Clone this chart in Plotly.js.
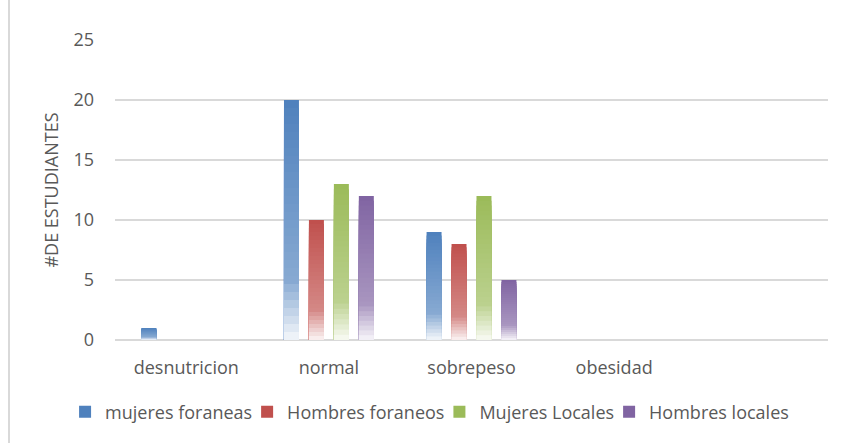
<!DOCTYPE html>
<html>
<head>
<meta charset="utf-8">
<script src="https://cdn.plot.ly/plotly-3.0.1.min.js"></script>
<style>
  html, body { margin: 0; padding: 0; background: #ffffff; }
  #wrap { position: relative; width: 843px; height: 443px; }
  #chart { width: 843px; height: 443px; }
  #frame { position: absolute; left: 8px; top: 0; width: 2px; height: 443px; background: #d9d9d9; }
</style>
</head>
<body>
<div id="wrap">
  <div id="chart"></div>
  <div id="frame"></div>
</div>
<script>
// ---- data ----
const categories = ['desnutricion', 'normal', 'sobrepeso', 'obesidad'];
const seriesNames = ['mujeres foraneas', 'Hombres foraneos', 'Mujeres Locales', 'Hombres locales'];
const mujeresForaneas = [1, 20, 9, 0];
const hombresForaneos = [0, 10, 8, 0];
const mujeresLocales = [0, 13, 12, 0];
const hombresLocales = [0, 12, 5, 0];
const yTickValues = [0, 5, 10, 15, 20, 25];

// ---- styling ----
const seriesValues = [mujeresForaneas, hombresForaneos, mujeresLocales, hombresLocales];
const baseColors = [[79, 129, 189], [192, 80, 77], [155, 187, 89], [128, 100, 162]];
const FONT = '"Open Sans", "Noto Sans", sans-serif';
const TXT = '#595959';
const N = 30; // gradient layers per bar

function mixWhite(rgb, m) {
  return 'rgb(' + rgb.map(c => Math.round(c + (255 - c) * m)).join(',') + ')';
}
// t: 0 at top of bar, 1 at bottom
function gradAt(rgb, t) {
  let m;
  if (t <= 0.75) m = 0.32 * (t / 0.75);
  else m = 0.32 + (0.94 - 0.32) * ((t - 0.75) / 0.25);
  return mixWhite(rgb, m);
}

// Overlapping layers: tallest (full value) first, shorter lighter layers drawn over the lower part.
const traces = [];
seriesValues.forEach((vals, s) => {
  for (let k = 0; k < N; k++) {
    const t = (k + 0.5) / N;
    traces.push({
      type: 'bar',
      x: categories,
      y: vals.map(v => v * (N - k) / N),
      offsetgroup: String(s),
      legendgroup: String(s),
      name: seriesNames[s],
      showlegend: k === 0,
      marker: { color: k === 0 ? mixWhite(baseColors[s], 0) : gradAt(baseColors[s], t), line: { width: 0 } },
      hoverinfo: 'skip'
    });
  }
});

const layout = {
  width: 843,
  height: 443,
  paper_bgcolor: '#ffffff',
  plot_bgcolor: '#ffffff',
  margin: { l: 115, r: 15, t: 40, b: 103 },
  barmode: 'group',
  bargap: 0.3,
  bargroupgap: 0.4,
  showlegend: true,
  font: { family: FONT, size: 18, color: TXT },
  xaxis: {
    type: 'category',
    categoryorder: 'array',
    categoryarray: categories,
    range: [-0.5, 4.5],
    showgrid: false,
    showline: false,
    zeroline: false,
    ticks: '',
    tickangle: 0,
    ticklabelstandoff: 15,
    tickfont: { family: FONT, size: 18, color: TXT },
    automargin: false,
    fixedrange: true
  },
  yaxis: {
    range: [0, 25],
    tickvals: yTickValues,
    ticktext: yTickValues.map(String),
    showgrid: true,
    gridcolor: '#d9d9d9',
    gridwidth: 2,
    zeroline: true,
    zerolinecolor: '#d9d9d9',
    zerolinewidth: 2,
    showline: false,
    ticks: '',
    ticklabelstandoff: 20,
    tickfont: { family: FONT, size: 18, color: TXT },
    title: { text: '#DE ESTUDIANTES', font: { family: FONT, size: 18, color: TXT }, standoff: 10 },
    automargin: false,
    fixedrange: true
  },
  legend: {
    orientation: 'h',
    x: -0.056,
    xanchor: 'left',
    y: -0.24,
    yanchor: 'middle',
    indentation: -10,
    font: { family: FONT, size: 18, color: TXT },
    traceorder: 'normal',
    bgcolor: 'rgba(0,0,0,0)'
  }
};

Plotly.newPlot('chart', traces, layout, { staticPlot: true, displayModeBar: false });
</script>
</body>
</html>
